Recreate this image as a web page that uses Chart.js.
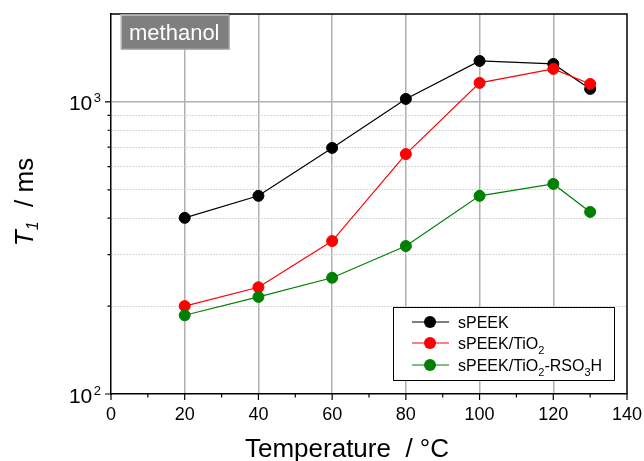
<!DOCTYPE html>
<html>
<head>
<meta charset="utf-8">
<script src="https://cdn.jsdelivr.net/npm/chart.js@4"></script>
<style>html,body{margin:0;padding:0;background:#fff}</style>
</head>
<body>
<canvas id="t1Chart" width="644" height="461"></canvas>
<script>
// Valeurs (T1 en ms)
const temperatures = [20, 40, 60, 80, 100, 120, 130];
const sPEEK = [401, 477, 696, 1024, 1381, 1349, 1108];
const sPEEKTiO2 = [200, 232, 334, 663, 1162, 1297, 1152];
const sPEEKTiO2RSO3H = [186, 215, 250, 321, 477, 524, 420];

// Graduations
const xTicks = [0, 20, 40, 60, 80, 100, 120, 140];
const xMinorTicks = [10, 30, 50, 70, 90, 110, 130];
const yTicks = [100, 200, 300, 400, 500, 600, 700, 800, 900, 1000, 2000];
const yMajorTicks = [100, 1000];

const FONT = "'Liberation Sans', Arial, sans-serif";

function points(values) {
    return temperatures.map((t, i) => ({ x: t, y: values[i] }));
}

function serie(label, values, color, order) {
    return {
        label: label,
        data: points(values),
        borderColor: color,
        backgroundColor: color,
        pointBackgroundColor: color,
        pointBorderColor: color,
        pointRadius: 5.5,
        pointBorderWidth: 1,
        borderWidth: 1.2,
        order: order
    };
}

// Cadre, graduations, étiquettes 10^n, titres, légende, encadré "methanol"
const decorPlugin = {
    id: "decor",
    afterDraw(chart) {
        const ctx = chart.ctx;
        const area = chart.chartArea;
        const xs = chart.scales.x;
        const ys = chart.scales.y;
        ctx.save();

        // cadre haut et droit
        ctx.strokeStyle = "#000";
        ctx.lineWidth = 1.5;
        ctx.beginPath();
        ctx.moveTo(area.left, area.top);
        ctx.lineTo(area.right, area.top);
        ctx.lineTo(area.right, area.bottom);
        ctx.stroke();

        // graduations X
        ctx.lineWidth = 1.2;
        ctx.beginPath();
        xTicks.forEach(v => {
            const px = xs.getPixelForValue(v);
            ctx.moveTo(px, area.bottom);
            ctx.lineTo(px, area.bottom + 6);
        });
        xMinorTicks.forEach(v => {
            const px = xs.getPixelForValue(v);
            ctx.moveTo(px, area.bottom);
            ctx.lineTo(px, area.bottom + 3.5);
        });
        // graduations Y
        yTicks.forEach(v => {
            if (v > 1000) return;
            const py = ys.getPixelForValue(v);
            const len = yMajorTicks.includes(v) ? 6 : 3.5;
            ctx.moveTo(area.left, py);
            ctx.lineTo(area.left - len, py);
        });
        ctx.stroke();

        // étiquettes 10^2, 10^3
        ctx.fillStyle = "#000";
        ctx.textBaseline = "alphabetic";
        yMajorTicks.forEach(v => {
            const py = ys.getPixelForValue(v);
            const exp = String(Math.round(Math.log10(v)));
            ctx.font = "13px " + FONT;
            ctx.textAlign = "right";
            const ew = ctx.measureText(exp).width;
            ctx.fillText(exp, 101, py + 0.5);
            ctx.font = "21px " + FONT;
            ctx.fillText("10", 101 - ew - 1.5, py + 8.5);
        });

        // titre X
        ctx.font = "26px " + FONT;
        ctx.textAlign = "center";
        ctx.fillText("Temperature  / °C", 347, 457);

        // titre Y : T1 / ms
        ctx.save();
        ctx.translate(33, (area.top + area.bottom) / 2 - 2);
        ctx.rotate(-Math.PI / 2);
        const parts = [
            { t: "T", f: "italic 26px " + FONT, dy: 0 },
            { t: "1", f: "italic 16px " + FONT, dy: 5 },
            { t: "  / ms", f: "26px " + FONT, dy: 0 }
        ];
        let total = 0;
        parts.forEach(p => { ctx.font = p.f; p.w = ctx.measureText(p.t).width; total += p.w; });
        let cx = -total / 2;
        ctx.textAlign = "left";
        parts.forEach(p => {
            ctx.font = p.f;
            ctx.fillText(p.t, cx, p.dy);
            cx += p.w;
        });
        ctx.restore();

        // encadré "methanol"
        ctx.fillStyle = "#7f7f7f";
        ctx.fillRect(121, 15, 108, 34);
        ctx.lineWidth = 1.5;
        ctx.strokeStyle = "#c8c8c8";
        ctx.beginPath();
        ctx.moveTo(121, 49); ctx.lineTo(121, 15); ctx.lineTo(229, 15);
        ctx.stroke();
        ctx.strokeStyle = "#9a9a9a";
        ctx.beginPath();
        ctx.moveTo(229, 15); ctx.lineTo(229, 49); ctx.lineTo(121, 49);
        ctx.stroke();
        ctx.fillStyle = "#fff";
        ctx.font = "22px " + FONT;
        ctx.textAlign = "left";
        ctx.fillText("methanol", 129, 40);

        // légende
        ctx.fillStyle = "#fff";
        ctx.fillRect(393, 307, 221, 73);
        ctx.strokeStyle = "#000";
        ctx.lineWidth = 1;
        ctx.strokeRect(393.5, 307.5, 221, 73);
        const legendText = [
            [["sPEEK", 0]],
            [["sPEEK/TiO", 0], ["2", 1]],
            [["sPEEK/TiO", 0], ["2", 1], ["-RSO", 0], ["3", 1], ["H", 0]]
        ];
        const rows = [322, 343, 365];
        chart.data.datasets.forEach((ds, i) => {
            const y = rows[i];
            ctx.strokeStyle = ds.borderColor;
            ctx.lineWidth = 1.2;
            ctx.beginPath();
            ctx.moveTo(412, y);
            ctx.lineTo(449, y);
            ctx.stroke();
            ctx.fillStyle = ds.borderColor;
            ctx.beginPath();
            ctx.arc(430, y, 6, 0, Math.PI * 2);
            ctx.fill();
            ctx.fillStyle = "#000";
            let tx = 458;
            legendText[i].forEach(([txt, sub]) => {
                ctx.font = (sub ? "11px " : "16px ") + FONT;
                ctx.fillText(txt, tx, y + 6 + (sub ? 5 : 0));
                tx += ctx.measureText(txt).width;
            });
        });

        ctx.restore();
    }
};

const t1Config = {
    type: "line",
    data: {
        datasets: [
            serie("sPEEK", sPEEK, "#000000", 3),
            serie("sPEEK/TiO2", sPEEKTiO2, "#ff0000", 2),
            serie("sPEEK/TiO2-RSO3H", sPEEKTiO2RSO3H, "#008000", 1)
        ]
    },
    options: {
        responsive: false,
        animation: false,
        layout: { padding: { left: 0, right: 17, top: 14, bottom: 0 } },
        plugins: {
            legend: { display: false },
            tooltip: { enabled: false }
        },
        scales: {
            x: {
                type: "linear",
                min: 0,
                max: 140,
                afterBuildTicks: s => { s.ticks = xTicks.map(v => ({ value: v })); },
                afterFit: s => { s.height = 67; s.paddingLeft = 0; s.paddingRight = 0; },
                ticks: {
                    font: { family: FONT, size: 18 },
                    color: "#000",
                    padding: 10,
                    maxRotation: 0
                },
                grid: {
                    color: c => (c.tick && (c.tick.value === 0 || c.tick.value === 140)) ? "rgba(0,0,0,0)" : "#b0b0b0",
                    lineWidth: 1.5,
                    drawTicks: false
                },
                border: { color: "#000", width: 1.5 }
            },
            y: {
                type: "logarithmic",
                min: 100,
                max: 2000,
                afterBuildTicks: s => { s.ticks = yTicks.map(v => ({ value: v })); },
                afterFit: s => { s.width = 111; s.paddingTop = 0; s.paddingBottom = 0; },
                ticks: { display: false },
                grid: {
                    color: c => {
                        if (!c.tick) return "rgba(0,0,0,0)";
                        const v = c.tick.value;
                        if (v === 100 || v === 2000) return "rgba(0,0,0,0)";
                        return v === 1000 ? "#b0b0b0" : "#cacaca";
                    },
                    lineWidth: c => (c.tick && c.tick.value === 1000) ? 1.5 : 1,
                    drawTicks: false
                },
                border: {
                    color: "#000",
                    width: 1.5,
                    dash: c => (c.tick && c.tick.value !== 1000) ? [1.5, 1.5] : []
                }
            }
        }
    },
    plugins: [decorPlugin]
};

const t1Chart = new Chart(document.getElementById("t1Chart"), t1Config);
</script>
</body>
</html>
